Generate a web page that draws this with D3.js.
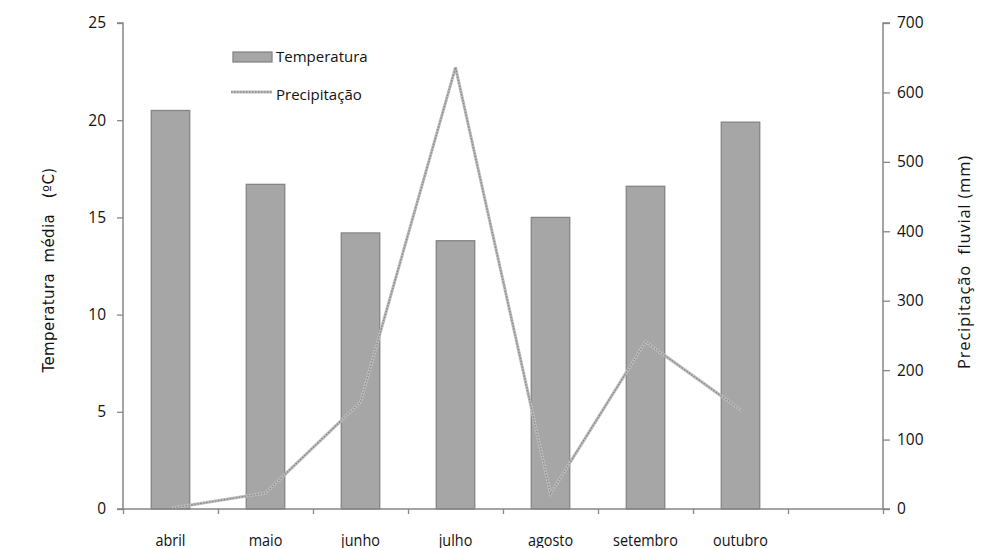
<!DOCTYPE html>
<html><head><meta charset="utf-8">
<script src="https://cdn.jsdelivr.net/npm/d3@7"></script>
<style>body{margin:0;background:#fff}svg{display:block}</style>
</head><body>
<svg id="c" width="982" height="548"></svg>
<script>
const categories = ["abril","maio","junho","julho","agosto","setembro","outubro",""];
const temperatura = [20.5,16.7,14.2,13.8,15.0,16.6,19.9,null];
const precipitacao = [1,23,154,636,22,241,143];
const leftTicks = [0,5,10,15,20,25];
const rightTicks = [0,100,200,300,400,500,600,700];

const svg = d3.select("#c");
const L=123, R=883, T=23, B=509;
const axisColor="#868686";
const font="'Open Sans', sans-serif";

const x = d3.scaleBand().domain(categories.map((d,i)=>i)).range([L,R]);
const yL = d3.scaleLinear().domain([0,25]).range([B,T]);
const yR = d3.scaleLinear().domain([0,700]).range([B,T]);

// bars
const bw = x.bandwidth()*0.405;
svg.append("g").selectAll("rect").data(temperatura.map((v,i)=>({v,i})).filter(d=>d.v!=null))
 .join("rect")
 .attr("x",d=>x(d.i)+x.bandwidth()/2-bw/2)
 .attr("y",d=>yL(d.v))
 .attr("width",bw)
 .attr("height",d=>B-yL(d.v))
 .attr("fill","#a6a6a6").attr("stroke","#858585").attr("stroke-width",1.3);

// line
const line = d3.line().x((d,i)=>x(i)+x.bandwidth()/2).y(d=>yR(d));
svg.append("path").datum(precipitacao).attr("d",line)
 .attr("fill","none").attr("stroke","#bcbcbc").attr("stroke-width",3);
svg.append("path").datum(precipitacao).attr("d",line)
 .attr("fill","none").attr("stroke","#8a8a8a").attr("stroke-width",1.4).attr("stroke-dasharray","1.5,1.5");

// axes
const gl = svg.append("g").attr("transform",`translate(${L},0)`)
 .call(d3.axisLeft(yL).tickValues(leftTicks).tickSize(6).tickPadding(11));
const gr = svg.append("g").attr("transform",`translate(${R},0)`)
 .call(d3.axisRight(yR).tickValues(rightTicks).tickSize(7).tickPadding(7));
const xTickPos = d3.range(categories.length+1).map(i=>L+i*x.step());
const gb = svg.append("g").attr("transform",`translate(0,${B})`)
 .call(d3.axisBottom(d3.scaleLinear().domain([L,R]).range([L,R])).tickValues(xTickPos).tickSize(5).tickFormat(""));
[gl,gr,gb].forEach(g=>{
  g.select(".domain").attr("stroke",axisColor).attr("stroke-width",1.5);
  g.selectAll(".tick line").attr("stroke",axisColor).attr("stroke-width",1.3);
  g.selectAll("text").attr("font-family",font).attr("font-size",15.5).attr("fill","#111");
});
gl.select(".domain").attr("d",`M-6,${T}H0V${B}H-6`);
gr.select(".domain").attr("d",`M7,${T}H0V${B}H7`);
gb.select(".domain").attr("d",`M${L},0H${R}`);

// category labels
svg.append("g").selectAll("text").data(categories).join("text")
 .attr("x",(d,i)=>x(i)+x.bandwidth()/2).attr("y",546)
 .attr("text-anchor","middle").attr("font-family",font).attr("font-size",16)
 .attr("fill","#111").attr("transform",(d,i)=>`translate(${x(i)+x.bandwidth()/2},0) scale(0.9,1) translate(${-(x(i)+x.bandwidth()/2)},0)`)
 .text(d=>d);

// axis titles
svg.append("text").attr("transform","translate(54,270) rotate(-90)")
 .attr("text-anchor","middle").attr("font-family","'DejaVu Sans', sans-serif").attr("font-size",15)
 .attr("letter-spacing",0.4)
 .attr("fill","#111").attr("xml:space","preserve").text("Temperatura  média   (ºC)");
svg.append("text").attr("transform","translate(970,262) rotate(-90)")
 .attr("text-anchor","middle").attr("font-family",font).attr("font-size",16.5)
 .attr("letter-spacing",0.8)
 .attr("fill","#111").attr("xml:space","preserve").text("Precipitação  fluvial (mm)");

// legend
const lg = svg.append("g");
lg.append("rect").attr("x",233).attr("y",52).attr("width",39).attr("height",10)
 .attr("fill","#a6a6a6").attr("stroke","#858585").attr("stroke-width",1.3);
lg.append("text").attr("x",276).attr("y",62).attr("font-family",font).attr("font-size",15).attr("fill","#111").text("Temperatura");
lg.append("line").attr("x1",231).attr("x2",272).attr("y1",92).attr("y2",92)
 .attr("stroke","#bcbcbc").attr("stroke-width",3);
lg.append("line").attr("x1",231).attr("x2",272).attr("y1",92).attr("y2",92)
 .attr("stroke","#8a8a8a").attr("stroke-width",1.4).attr("stroke-dasharray","1.5,1.5");
lg.append("text").attr("x",276).attr("y",100).attr("font-family",font).attr("font-size",15).attr("fill","#111").text("Precipitação");
</script>
</body></html>
